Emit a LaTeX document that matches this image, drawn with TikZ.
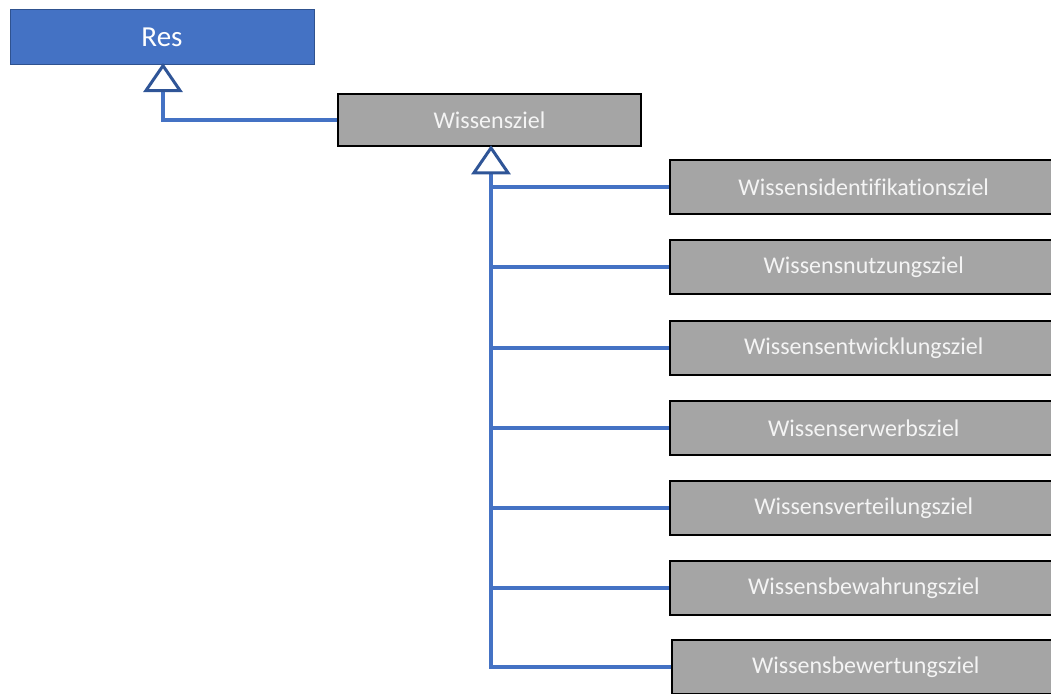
\documentclass[tikz,border=0pt]{standalone}
\usepackage{fontspec}
\setmainfont{Carlito}[Ligatures=NoCommon]
\usetikzlibrary{arrows.meta}
\definecolor{accentblue}{HTML}{4472C4}
\definecolor{rimblue}{HTML}{2F528F}
\definecolor{tipblue}{HTML}{2F5597}
\definecolor{boxgray}{HTML}{A5A5A5}
\definecolor{labelwhite}{HTML}{F4F4F4}
\tikzset{
  rootbox/.style={draw=rimblue, line width=1pt, fill=accentblue, text=white,
    minimum width=304pt, minimum height=54pt, inner sep=0pt, font=\fontsize{29}{32}\selectfont},
  classbox/.style={draw=black, line width=1.5pt, fill=boxgray, text=labelwhite,
    inner sep=0pt, font=\fontsize{24}{28}\selectfont},
  childbox/.style={classbox, minimum width=388pt, minimum height=54pt, anchor=west},
  conn/.style={draw=accentblue, line width=3.2pt},
  inherit/.style={conn, -{Triangle[width=39pt, length=29pt, fill=white, color=tipblue, line width=3pt]}}
}
\begin{document}
\begin{tikzpicture}[x=1pt, y=-1pt]
\useasboundingbox (0,0) rectangle (1051,693);
\begin{scope}
\clip (0,0) rectangle (1051,693);
\node[rootbox] (res) at (162,37) {Res};
\node[classbox, minimum width=303pt, minimum height=52pt] (ws) at (489.5,120) {Wissensziel};
\node[childbox] (c1) at (669,187) {Wissensidentifikationsziel};
\node[childbox] (c2) at (669,267) {Wissensnutzungsziel};
\node[childbox] (c3) at (669,348) {Wissensentwicklungsziel};
\node[childbox] (c4) at (669,428) {Wissenserwerbsziel};
\node[childbox] (c5) at (669,508) {Wissensverteilungsziel};
\node[childbox] (c6) at (669,588) {Wissensbewahrungsziel};
\node[childbox] (c7) at (671,667) {Wissensbewertungsziel};
\coordinate (trunk) at ([xshift=1.5pt]ws.south);
% generalisation: Wissensziel -> Res
\draw[inherit] (ws.west) -| ([xshift=1pt, yshift=1.5pt]res.south);
% generalisation: children -> Wissensziel
\draw[inherit] (c7.west) -| ([yshift=1.5pt]trunk);
\foreach \c in {c1,c2,c3,c4,c5,c6}
  \draw[conn] (\c.west) -- (\c.west -| trunk);
\end{scope}
\end{tikzpicture}
\end{document}
